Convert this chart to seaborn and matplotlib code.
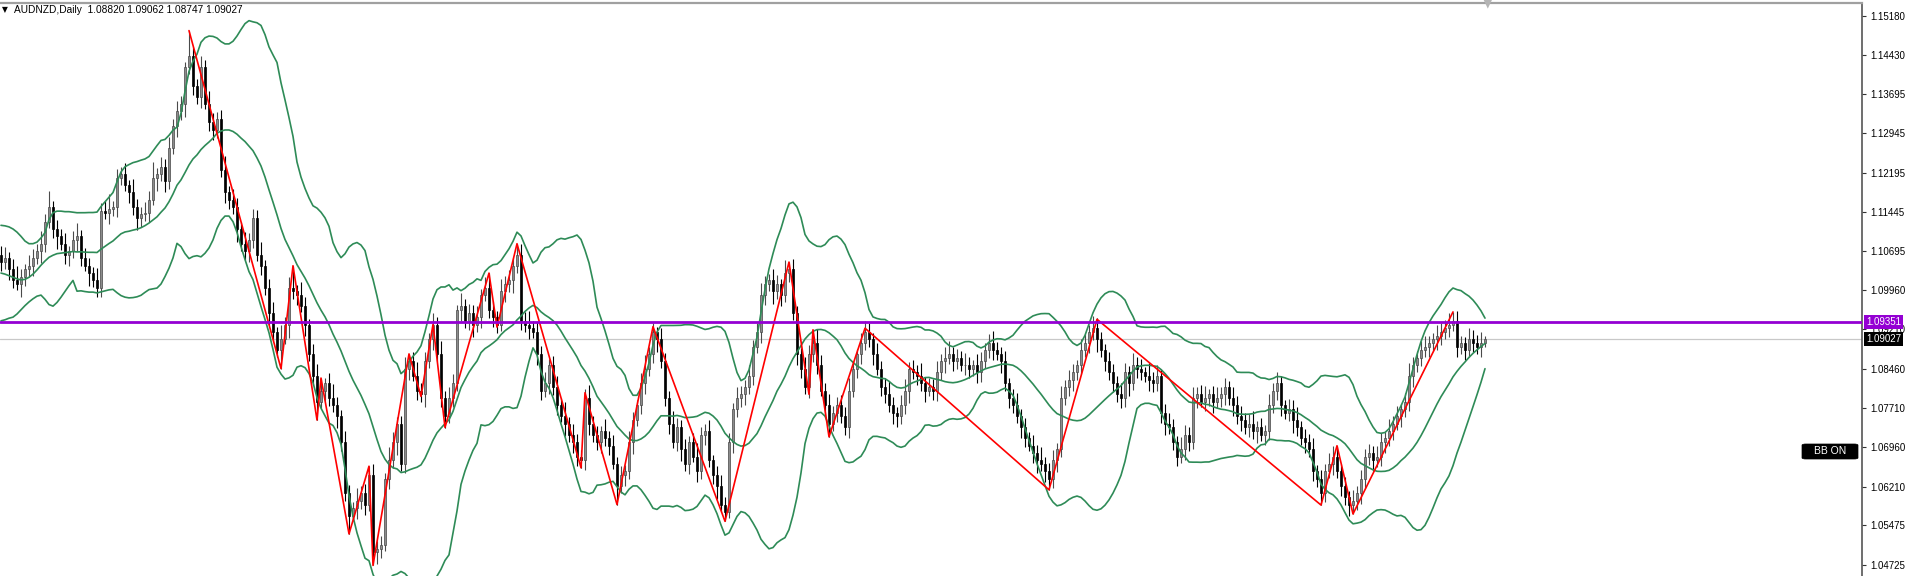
import numpy as np
import pandas as pd
import matplotlib
matplotlib.use('Agg')
import matplotlib.pyplot as plt
import matplotlib.transforms as mtransforms
from matplotlib.patches import FancyBboxPatch
import seaborn as sns

# daily closes, in pips above 1.0000 (1049 -> 1.1049)
closes_pips = [
    1049, 1056, 1035, 1014, 1007, 1021, 1035, 1042, 1056, 1070, 1084, 1126, 1154, 1112, 1098, 1084, 1063, 1070, 1091, 1098,
    1056, 1042, 1028, 1014, 1000, 1147, 1143, 1150, 1154, 1210, 1217, 1196, 1182, 1154, 1133, 1140, 1143, 1168, 1210, 1217,
    1231, 1203, 1266, 1308, 1336, 1350, 1420, 1441, 1385, 1364, 1420, 1350, 1315, 1301, 1322, 1224, 1182, 1168, 1154, 1112,
    1084, 1070, 1091, 1133, 1063, 1042, 1000, 951, 916, 881, 902, 930, 1000, 993, 986, 965, 930, 874, 832, 783,
    804, 818, 790, 776, 755, 706, 608, 566, 580, 594, 608, 587, 643, 496, 503, 510, 636, 671, 706, 741,
    664, 846, 860, 832, 804, 797, 860, 902, 930, 874, 790, 755, 790, 818, 958, 965, 937, 951, 930, 944,
    986, 1000, 958, 944, 930, 993, 1007, 1014, 1042, 1063, 937, 930, 923, 916, 874, 804, 818, 853, 811, 776,
    755, 741, 720, 706, 678, 671, 790, 741, 720, 706, 727, 713, 699, 664, 622, 643, 650, 706, 748, 776,
    818, 846, 874, 916, 902, 860, 790, 741, 706, 734, 692, 664, 706, 678, 650, 720, 727, 671, 643, 622,
    587, 573, 706, 769, 790, 797, 811, 832, 888, 916, 986, 1007, 1014, 993, 1007, 986, 1028, 1035, 951, 874,
    846, 811, 874, 895, 853, 804, 776, 741, 762, 776, 755, 734, 804, 846, 874, 895, 916, 902, 874, 846,
    811, 797, 776, 762, 755, 776, 804, 846, 839, 832, 818, 804, 811, 804, 839, 860, 867, 874, 860, 867,
    853, 853, 846, 853, 839, 860, 881, 895, 881, 874, 860, 818, 790, 776, 755, 734, 713, 699, 685, 671,
    664, 650, 636, 671, 692, 790, 811, 825, 839, 853, 881, 895, 916, 923, 902, 881, 860, 839, 818, 797,
    790, 839, 818, 853, 846, 839, 832, 825, 818, 832, 762, 741, 734, 706, 678, 692, 720, 706, 790, 797,
    783, 790, 797, 783, 790, 797, 811, 790, 776, 755, 748, 734, 741, 727, 734, 720, 727, 776, 804, 818,
    776, 762, 769, 748, 734, 713, 706, 692, 650, 636, 608, 650, 664, 678, 650, 622, 601, 587, 594, 608,
    636, 678, 685, 671, 678, 706, 713, 727, 741, 755, 769, 783, 832, 853, 867, 881, 888, 895, 902, 909,
    916, 923, 930, 937, 888, 895, 881, 902, 895, 888, 895, 903,
]
first_open = 1063

# wick length above / below the body, in pips
up_wick = [
    16, 22, 12, 19, 27, 14, 10, 20, 17, 13, 24, 15, 30, 11, 18, 14, 21, 9, 17, 25, 13, 20, 15, 11, 23, 14, 18, 28, 12, 17, 13,
    20, 10, 25, 15, 13, 21, 17, 29, 12, 18, 14, 22, 13, 20, 15, 10, 26, 17, 12, 21, 14, 24, 18, 13, 16, 28, 11, 20, 17, 14, 22,
    13, 18, 16, 24, 11, 17, 21, 10, 27, 14, 20, 15, 13, 25, 17, 11, 18, 22, 14, 10, 20, 26, 15, 13, 21, 17, 12, 24, 14, 18, 16,
    21, 14, 17, 12, 25, 20, 13, 15, 22, 10, 18, 27, 14, 17, 12, 21, 15, 24, 13, 20, 17, 10, 25, 14, 18, 16, 22, 11, 20, 13, 17,
    12, 24, 15, 20, 14, 10, 21, 17, 26, 13, 18, 15, 22, 11, 17, 20, 14, 28, 13, 21, 15, 12, 18, 24, 14, 17, 10, 22, 15, 20, 13,
    18, 13, 22, 15, 11, 20, 25, 14, 17, 10, 21, 15, 13, 24, 18, 14, 20, 11, 17, 26, 15, 13, 21, 10, 18, 22, 14, 17, 12, 20, 15,
    14, 20, 12, 17, 24, 15, 13, 21, 18, 10, 25, 14, 20, 15, 12, 22, 17, 13, 27, 18, 14, 21, 12, 15, 20, 17, 24, 13, 10, 18, 21,
    17, 12, 21, 14, 18, 26, 15, 10, 20, 22, 13, 17, 14, 24, 12, 18, 15, 21, 13, 20, 25, 14, 17, 12, 22, 15, 10, 20, 18, 13, 17,
    22, 15, 13, 20, 10, 17, 24, 14, 18, 12, 21, 15, 26, 13, 17, 20, 12, 22, 14, 18, 15, 10, 21, 17, 13, 24, 20, 14, 12, 18, 15,
    13, 21, 17, 12, 22, 15, 18, 10, 25, 14, 20, 13, 17, 21, 15, 12, 24, 18, 14, 20, 13, 17, 22, 10, 15, 21, 14, 18, 12, 20, 17,
    20, 14, 18, 24, 13, 17, 12, 21, 15, 22, 14, 10, 20, 17, 25, 13, 18, 15, 21, 12, 17, 14, 22, 20, 13, 15, 18, 12, 21, 14, 17,
    15, 18, 13, 21, 17, 12, 22, 14, 20, 10, 17, 24, 15, 13, 18, 21, 14, 12, 20, 17, 15, 22, 13, 18, 14, 12, 21, 17, 15, 20, 6,
]
dn_wick = [
    18, 13, 21, 15, 12, 24, 17, 14, 20, 10, 22, 15, 13, 18, 25, 12, 17, 21, 14, 20, 15, 10, 24, 13, 18, 17, 12, 21, 14, 20, 15,
    12, 20, 15, 22, 17, 13, 18, 10, 25, 14, 21, 15, 12, 20, 17, 24, 13, 18, 14, 22, 10, 17, 20, 15, 12, 21, 18, 13, 24, 14, 17,
    21, 15, 12, 18, 14, 22, 17, 13, 20, 10, 25, 15, 18, 12, 21, 14, 17, 24, 13, 20, 15, 12, 22, 17, 14, 18, 10, 21, 15, 20, 13,
    14, 22, 18, 12, 20, 15, 24, 13, 17, 21, 10, 18, 15, 25, 13, 20, 14, 17, 22, 12, 18, 15, 21, 13, 17, 24, 14, 20, 12, 15, 18,
    17, 12, 21, 15, 24, 13, 18, 14, 20, 12, 22, 17, 13, 21, 15, 18, 10, 24, 14, 20, 17, 12, 18, 22, 13, 15, 21, 14, 17, 10, 20,
    13, 20, 15, 22, 12, 17, 21, 14, 18, 24, 13, 15, 20, 12, 17, 22, 14, 18, 10, 21, 15, 20, 13, 17, 25, 14, 18, 12, 21, 15, 17,
    20, 14, 17, 12, 21, 18, 13, 24, 15, 20, 14, 17, 12, 22, 18, 13, 21, 15, 17, 10, 20, 24, 14, 18, 13, 15, 21, 12, 17, 20, 14,
    15, 21, 13, 18, 17, 12, 22, 20, 14, 17, 24, 13, 18, 15, 21, 10, 17, 20, 14, 22, 13, 18, 15, 12, 20, 17, 14, 21, 18, 13, 15,
    18, 12, 22, 14, 20, 15, 13, 21, 17, 10, 18, 24, 14, 20, 12, 17, 22, 15, 13, 18, 21, 14, 17, 12, 20, 15, 24, 13, 18, 14, 17,
    14, 20, 17, 24, 13, 18, 15, 12, 21, 17, 14, 20, 22, 13, 15, 18, 12, 21, 17, 14, 20, 10, 18, 15, 22, 13, 17, 20, 14, 21, 15,
    21, 13, 18, 15, 22, 12, 20, 17, 14, 18, 21, 13, 15, 24, 17, 12, 20, 14, 18, 15, 21, 17, 13, 20, 12, 18, 15, 22, 14, 17, 20,
    17, 15, 20, 13, 18, 21, 14, 17, 12, 20, 15, 18, 22, 14, 17, 13, 20, 15, 21, 18, 14, 17, 12, 20, 15, 18, 13, 17, 14, 20, 7,
]

# zigzag turning points (bar index, pips above 1.0000), first one is a top
zz_bars = [47, 70, 73, 79, 80, 87, 92, 93, 102, 105, 108, 111, 122, 124, 129, 145,
           146, 154, 163, 181, 197, 202, 203, 207, 216, 262, 274, 330, 334, 338, 363]
zz_pips = [1490, 846, 1042, 748, 828, 531, 660, 471, 874, 793, 930, 734, 1028, 925, 1084, 657,
           800, 587, 926, 555, 1049, 797, 920, 716, 923, 615, 940, 586, 699, 569, 954]

# band values read at the left edge, before 20 bars are on screen
bb_head_upper = [1119, 1118, 1116, 1112, 1106, 1098, 1089, 1084, 1084, 1087, 1095, 1105, 1130, 1143, 1146, 1146, 1145, 1145, 1144]
bb_head_mid = [1028, 1026, 1023, 1020, 1017, 1015, 1016, 1020, 1026, 1034, 1043, 1051, 1058, 1062, 1065, 1066, 1067, 1068, 1069]
bb_head_lower = [937, 939, 942, 944, 950, 958, 966, 973, 979, 984, 986, 978, 968, 965, 972, 982, 993, 1004, 1014]

y_ticks = [1.15180, 1.14430, 1.13695, 1.12945, 1.12195, 1.11445, 1.10695, 1.09960,
           1.09210, 1.08460, 1.07710, 1.06960, 1.06210, 1.05475, 1.04725]
level_price = 1.09351
bid_price = 1.09027
title = "AUDNZD,Daily  1.08820 1.09062 1.08747 1.09027"

print(len(closes_pips), len(up_wick), len(dn_wick))

close = 1 + np.array(closes_pips) / 10000
n = len(close)
x = np.arange(n)
open_ = np.r_[1 + first_open / 10000, close[:-1]]
body_top = np.maximum(open_, close)
body_bot = np.minimum(open_, close)
high = body_top + np.array(up_wick[:n]) / 10000
low = body_bot - np.array(dn_wick[:n]) / 10000

zz_price = 1 + np.array(zz_pips) / 10000
for k, (b, p) in enumerate(zip(zz_bars, zz_price)):
    if k % 2 == 0:
        high[b] = max(high[b], p)
    else:
        low[b] = min(low[b], p)

# bollinger bands 20, 2
s = pd.Series(close)
mid = s.rolling(20).mean()
sd = s.rolling(20).std(ddof=0)
upper = (mid + 2 * sd).to_numpy()
lower = (mid - 2 * sd).to_numpy()
mid = mid.to_numpy()
h = len(bb_head_mid)
upper[:h] = 1 + np.array(bb_head_upper) / 10000
mid[:h] = 1 + np.array(bb_head_mid) / 10000
lower[:h] = 1 + np.array(bb_head_lower) / 10000

sns.set_theme(style='white')
plt.rcParams['font.family'] = ['Liberation Sans', 'DejaVu Sans']

W, H = 1912, 576
fig = plt.figure(figsize=(W / 100, H / 100), dpi=100)
ax = fig.add_axes([0, 0, 1862 / W, 573 / H])

bull = close >= open_
wick_col = np.where(bull, '#4a4a4a', '#000000')
ax.vlines(x, low, high, colors=wick_col, lw=0.8, zorder=2)
body_h = np.maximum(body_top - body_bot, 0.00006)
ax.bar(x[bull], body_h[bull], bottom=body_bot[bull], width=0.72,
       color='#8c8c8c', edgecolor='#474747', lw=0.5, zorder=2.1)
ax.bar(x[~bull], body_h[~bull], bottom=body_bot[~bull], width=0.72,
       color='#000000', edgecolor='#000000', lw=0.5, zorder=2.1)

bb_col = '#2e8b57'
for line in (upper, mid, lower):
    sns.lineplot(x=x, y=line, ax=ax, color=bb_col, lw=1.2, zorder=3)

sns.lineplot(x=zz_bars, y=zz_price, ax=ax, sort=False, color='#ff0000', lw=1.2, zorder=3.5)

ax.axhline(bid_price, color='#c8c8c8', lw=0.9, zorder=1)
ax.axhline(level_price, color='#9400d3', lw=2.0, zorder=4)

ax.set_xlim(-0.25, 465.25)
ax.set_ylim(1.04508, 1.15426)
ax.set_xticks([])
ax.yaxis.tick_right()
ax.set_yticks(y_ticks)
ax.set_yticklabels([f'{v:.5f}' for v in y_ticks])
ax.tick_params(axis='y', right=True, length=3, width=0.8, color='#333333',
               labelsize=7, pad=3, labelcolor='#000000')
for side in ('left', 'bottom'):
    ax.spines[side].set_visible(False)
ax.spines['right'].set_color('#555555')
ax.spines['right'].set_linewidth(1.2)
ax.spines['top'].set_color('#a0a0a0')
ax.spines['top'].set_linewidth(1.6)
ax.set_xlabel('')
ax.set_ylabel('')

# price tags on the scale
tr = mtransforms.blended_transform_factory(ax.transAxes, ax.transData)
tr = mtransforms.offset_copy(tr, fig=fig, x=4, y=0, units='dots')
ax.text(1.0, level_price, f'{level_price:.5f}', transform=tr, ha='left', va='center',
        color='white', fontsize=7, zorder=6, clip_on=False,
        bbox=dict(boxstyle='square,pad=0.2', fc='#9400d3', ec='none'))
ax.text(1.0, bid_price, f'{bid_price:.5f}', transform=tr, ha='left', va='center',
        color='white', fontsize=7, zorder=6, clip_on=False,
        bbox=dict(boxstyle='square,pad=0.2', fc='#000000', ec='none'))

# "BB ON" button
box = FancyBboxPatch((1802 / W, 1 - 459 / H), 56 / W, 15 / H,
                     boxstyle='round,pad=0,rounding_size=0.002',
                     transform=fig.transFigure, fc='#000000', ec='#000000', lw=0.5)
fig.patches.append(box)
fig.text(1830 / W, 1 - 451.5 / H, 'BB ON', color='white', fontsize=7.5,
         ha='center', va='center')

# header
fig.text(2 / W, 1 - 10 / H, '\u25bc', fontsize=5.5, va='center', ha='left',
         family=['DejaVu Sans'], color='#000000')
fig.text(14 / W, 1 - 10 / H, title, fontsize=7.3, va='center', ha='left', color='#000000')
fig.text(1488 / W, 1 - 3 / H, '\u25bc', fontsize=9, va='center', ha='center',
         family=['DejaVu Sans'], color='#b4b4b4')

fig.savefig('out.png', dpi=100)
